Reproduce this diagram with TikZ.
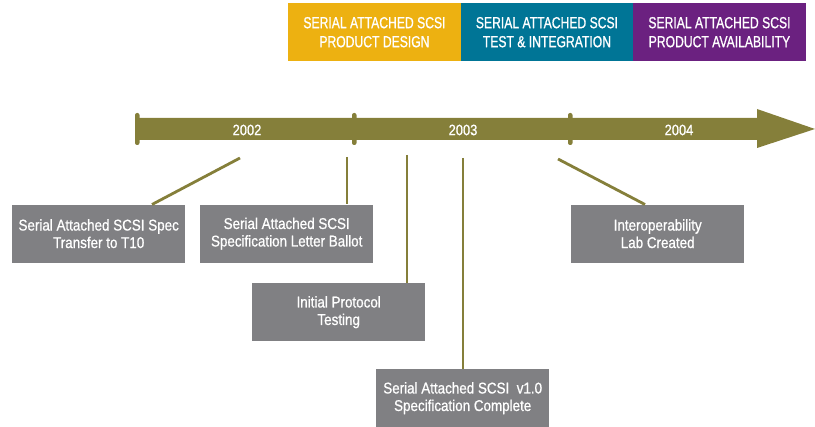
\documentclass[tikz,border=0pt]{standalone}
\usepackage{fontspec}
\setmainfont{Liberation Sans}[FakeStretch=0.86,FakeBold=0.8]
\newfontfamily\capsfont{Liberation Sans}[FakeStretch=0.76,FakeBold=0.8]
\definecolor{olive}{HTML}{857F3A}
\definecolor{gboxc}{HTML}{808083}
\definecolor{yel}{HTML}{EDB111}
\definecolor{teal}{HTML}{007596}
\definecolor{purp}{HTML}{6B2180}
\begin{document}
\begin{tikzpicture}[x=1pt,y=-1pt,
  phase/.style={fill=#1, draw=none, minimum width=172.5pt, minimum height=58pt, inner sep=0pt,
     text=white, font=\capsfont\fontsize{16}{19}\selectfont, align=center},
  evbox/.style={fill=gboxc, draw=none, minimum width=173pt, minimum height=58pt, inner sep=0pt,
     text=white, font=\fontsize{15.6}{17.5}\selectfont, align=center},
  yearlbl/.style={text=white, font=\fontsize{15}{16}\selectfont, inner sep=0pt},
  tick/.style={fill=olive, rounded corners=2pt},
  conn/.style={draw=olive, line width=2.8pt}]
\useasboundingbox (0,0) rectangle (815,427);
% phases
\node[phase=yel, anchor=north west] (p1) at (288,3) {SERIAL ATTACHED SCSI\\PRODUCT DESIGN};
\node[phase=teal, anchor=north west] (p2) at (460.5,3) {SERIAL ATTACHED SCSI\\TEST \& INTEGRATION};
\node[phase=purp, anchor=north west] (p3) at (633,3) {SERIAL ATTACHED SCSI\\PRODUCT AVAILABILITY};
% timeline arrow
\fill[olive] (137,118) -- (757,118) -- (757,109) -- (815,129) -- (757,148) -- (757,140) -- (137,140) -- cycle;
\fill[tick] (135,113) rectangle (139.5,145);
\fill[tick] (352,113) rectangle (356.5,145);
\fill[tick] (568,113) rectangle (572.5,145);
\node[yearlbl] (y2) at (247,130) {2002};
\node[yearlbl] (y3) at (463,130) {2003};
\node[yearlbl] (y4) at (679,130) {2004};
% anchor points on the timeline
\coordinate (ta) at (240,158);
\coordinate (tb) at (347,157);
\coordinate (tc) at (407,155);
\coordinate (td) at (463,158);
\coordinate (te) at (558,159);
% event boxes
\node[evbox, anchor=north west] (ea) at (12,204.5) {Serial Attached SCSI Spec\\Transfer to T10};
\node[evbox, anchor=north west] (eb) at (200,204.5) {Serial Attached SCSI\\Specification Letter Ballot};
\node[evbox, anchor=north west] (ec) at (252,283) {Initial Protocol\\Testing};
\node[evbox, anchor=north west] (ed) at (376,369) {Serial Attached SCSI\ \ v1.0\\Specification Complete};
\node[evbox, anchor=north west] (ee) at (571,204.5) {Interoperability\\Lab Created};
% connectors
\draw[conn] (ta) -- (ea.north west -| 152,0);
\draw[conn] (tb) -- (tb |- eb.north);
\draw[conn] (tc) -- (tc |- ec.north);
\draw[conn] (td) -- (td |- ed.north);
\draw[conn] (te) -- (ee.north west -| 645,0);
\end{tikzpicture}
\end{document}
